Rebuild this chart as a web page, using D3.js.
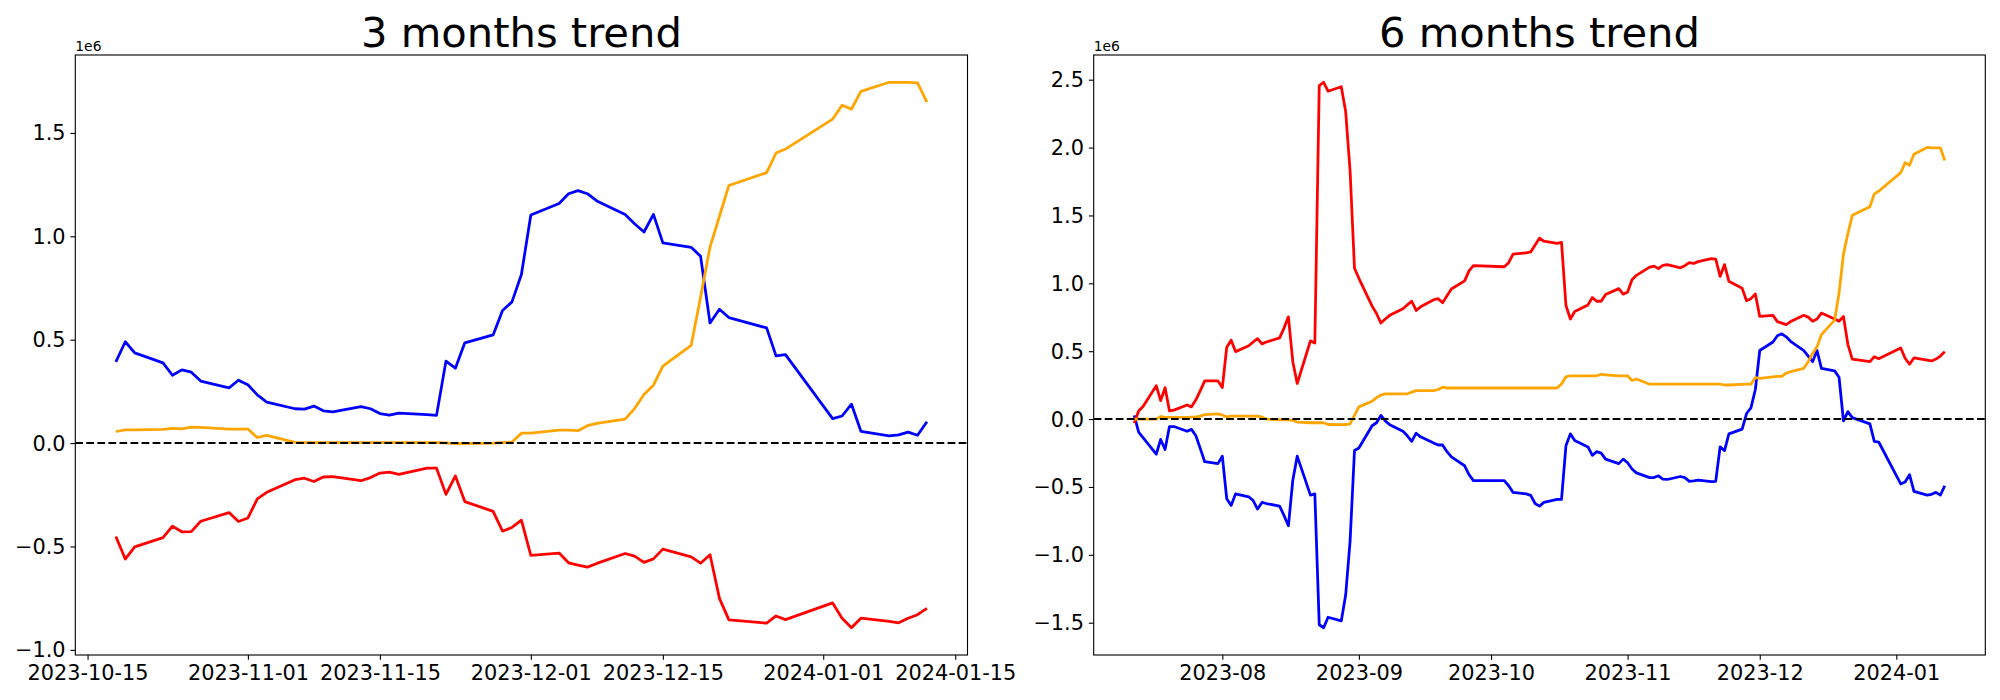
<!DOCTYPE html>
<html>
<head>
<meta charset="utf-8">
<script src="https://cdn.jsdelivr.net/npm/d3@7"></script>
<style>
  html, body { margin: 0; padding: 0; background: #ffffff; }
  svg { display: block; }
  text { font-family: "DejaVu Sans", sans-serif; fill: #000; }
</style>
</head>
<body>
<svg id="chart" width="2000" height="700"></svg>
<script>
// ---------------- DATA ----------------
const titles = ["3 months trend", "6 months trend"];
const offsetLabel = "1e6";

// 3 months panel
const dates3m = [
  "2023-10-18","2023-10-19","2023-10-20","2023-10-23","2023-10-24","2023-10-25","2023-10-26","2023-10-27","2023-10-30","2023-10-31",
  "2023-11-01","2023-11-02","2023-11-03","2023-11-06","2023-11-07","2023-11-08","2023-11-09","2023-11-10","2023-11-13","2023-11-14",
  "2023-11-15","2023-11-16","2023-11-17","2023-11-20","2023-11-21","2023-11-22","2023-11-23","2023-11-24","2023-11-27","2023-11-28",
  "2023-11-29","2023-11-30","2023-12-01","2023-12-04","2023-12-05","2023-12-06","2023-12-07","2023-12-08","2023-12-11","2023-12-12",
  "2023-12-13","2023-12-14","2023-12-15","2023-12-18","2023-12-19","2023-12-20","2023-12-21","2023-12-22","2023-12-26","2023-12-27",
  "2023-12-28","2024-01-02","2024-01-03","2024-01-04","2024-01-05","2024-01-08","2024-01-09","2024-01-10","2024-01-11","2024-01-12"
];
const blue3m = [
  0.393,0.490,0.436,0.388,0.328,0.354,0.343,0.300,0.267,0.304,
  0.282,0.233,0.198,0.166,0.164,0.179,0.156,0.151,0.176,0.166,
  0.143,0.135,0.145,0.138,0.134,0.396,0.362,0.485,0.523,0.641,
  0.683,0.815,1.103,1.159,1.206,1.221,1.206,1.171,1.105,1.061,
  1.021,1.106,0.968,0.947,0.903,0.581,0.647,0.607,0.557,0.422,
  0.428,0.118,0.131,0.188,0.057,0.035,0.040,0.053,0.038,0.103
];
const red3m = [
  -0.452,-0.561,-0.502,-0.457,-0.402,-0.429,-0.428,-0.378,-0.336,-0.379,
  -0.362,-0.270,-0.238,-0.177,-0.170,-0.186,-0.164,-0.162,-0.182,-0.167,
  -0.145,-0.140,-0.151,-0.121,-0.121,-0.248,-0.159,-0.283,-0.330,-0.426,
  -0.408,-0.373,-0.543,-0.532,-0.579,-0.590,-0.600,-0.582,-0.534,-0.547,
  -0.577,-0.560,-0.513,-0.550,-0.581,-0.540,-0.751,-0.855,-0.871,-0.836,
  -0.854,-0.773,-0.847,-0.893,-0.847,-0.862,-0.869,-0.847,-0.830,-0.799
];
const orange3m = [
  0.056,0.064,0.064,0.066,0.071,0.069,0.077,0.076,0.068,0.068,
  0.068,0.027,0.037,0.003,0.002,0.002,0.002,0.002,0.002,0.002,
  0.002,0.002,0.002,0.002,0.002,0.001,-0.003,-0.002,0.000,0.002,
  0.005,0.048,0.048,0.063,0.063,0.060,0.084,0.095,0.116,0.167,
  0.235,0.280,0.372,0.472,0.707,0.948,1.097,1.246,1.308,1.403,
  1.422,1.567,1.634,1.615,1.701,1.745,1.744,1.744,1.742,1.649
];
const xTicks3m = ["2023-10-15","2023-11-01","2023-11-15","2023-12-01","2023-12-15","2024-01-01","2024-01-15"];
const yTicks3m = [-1.0,-0.5,0.0,0.5,1.0,1.5];

// 6 months panel
const dates6m = [
  "2023-07-12","2023-07-13","2023-07-14","2023-07-17","2023-07-18","2023-07-19","2023-07-20","2023-07-21","2023-07-24","2023-07-25","2023-07-26","2023-07-27","2023-07-28","2023-07-31",
  "2023-08-01","2023-08-02","2023-08-03","2023-08-04","2023-08-07","2023-08-08","2023-08-09","2023-08-10","2023-08-11","2023-08-14","2023-08-15","2023-08-16","2023-08-17","2023-08-18","2023-08-21","2023-08-22","2023-08-23","2023-08-24","2023-08-25","2023-08-28","2023-08-29","2023-08-30","2023-08-31",
  "2023-09-01","2023-09-04","2023-09-05","2023-09-06","2023-09-07","2023-09-08","2023-09-11","2023-09-12","2023-09-13","2023-09-14","2023-09-15","2023-09-18","2023-09-19","2023-09-20","2023-09-21","2023-09-22","2023-09-25","2023-09-26","2023-09-27",
  "2023-10-04","2023-10-05","2023-10-06","2023-10-09","2023-10-10","2023-10-11","2023-10-12","2023-10-13","2023-10-16","2023-10-17","2023-10-18","2023-10-19","2023-10-20","2023-10-23","2023-10-24","2023-10-25","2023-10-26","2023-10-27","2023-10-30","2023-10-31",
  "2023-11-01","2023-11-02","2023-11-03","2023-11-06","2023-11-07","2023-11-08","2023-11-09","2023-11-10","2023-11-13","2023-11-14","2023-11-15","2023-11-16","2023-11-17","2023-11-20","2023-11-21","2023-11-22","2023-11-23","2023-11-24","2023-11-27","2023-11-28","2023-11-29","2023-11-30",
  "2023-12-01","2023-12-04","2023-12-05","2023-12-06","2023-12-07","2023-12-08","2023-12-11","2023-12-12","2023-12-13","2023-12-14","2023-12-15","2023-12-18","2023-12-19","2023-12-20","2023-12-21","2023-12-22","2023-12-26","2023-12-27","2023-12-28",
  "2024-01-02","2024-01-03","2024-01-04","2024-01-05","2024-01-08","2024-01-09","2024-01-10","2024-01-11","2024-01-12"
];
const red6m = [
  -0.030,0.060,0.093,0.246,0.136,0.232,0.060,0.066,0.104,0.090,0.142,0.210,0.281,0.281,
  0.232,0.529,0.581,0.497,0.540,0.568,0.592,0.554,0.568,0.598,0.670,0.753,0.423,0.262,0.576,0.560,2.456,2.481,2.415,2.448,2.265,1.829,1.111,
  1.037,0.832,0.778,0.707,0.737,0.764,0.813,0.841,0.868,0.800,0.827,0.879,0.887,0.857,0.909,0.958,1.018,1.092,1.130,
  1.122,1.152,1.215,1.225,1.231,1.283,1.332,1.310,1.294,1.302,0.838,0.737,0.792,0.841,0.895,0.868,0.868,0.917,0.961,0.920,
  0.936,1.026,1.059,1.119,1.127,1.108,1.133,1.138,1.114,1.130,1.152,1.146,1.160,1.182,1.179,1.051,1.138,1.015,0.963,0.871,0.887,0.922,
  0.756,0.764,0.718,0.707,0.696,0.718,0.764,0.751,0.721,0.737,0.781,0.737,0.721,0.756,0.551,0.442,0.423,0.459,0.445,
  0.524,0.448,0.404,0.450,0.434,0.428,0.442,0.464,0.497
];
const blue6m = [
  0.027,-0.096,-0.136,-0.259,-0.150,-0.224,-0.055,-0.055,-0.090,-0.076,-0.123,-0.218,-0.314,-0.328,
  -0.273,-0.587,-0.636,-0.551,-0.573,-0.600,-0.663,-0.614,-0.622,-0.641,-0.710,-0.786,-0.450,-0.273,-0.560,-0.551,-1.515,-1.537,-1.460,-1.487,-1.296,-0.901,-0.232,
  -0.213,-0.049,-0.027,0.027,-0.014,-0.041,-0.090,-0.123,-0.164,-0.104,-0.131,-0.177,-0.191,-0.191,-0.240,-0.278,-0.344,-0.409,-0.453,
  -0.453,-0.491,-0.540,-0.551,-0.562,-0.622,-0.641,-0.614,-0.592,-0.592,-0.197,-0.109,-0.158,-0.205,-0.267,-0.240,-0.251,-0.295,-0.328,-0.295,
  -0.322,-0.368,-0.396,-0.431,-0.431,-0.418,-0.442,-0.445,-0.423,-0.431,-0.459,-0.456,-0.450,-0.461,-0.459,-0.205,-0.232,-0.109,-0.074,0.041,0.082,0.218,
  0.505,0.568,0.614,0.628,0.606,0.573,0.505,0.464,0.423,0.505,0.374,0.355,0.308,-0.014,0.055,0.011,-0.035,-0.164,-0.169,
  -0.478,-0.464,-0.409,-0.532,-0.560,-0.554,-0.540,-0.560,-0.491
];
const orange6m = [
  0.000,0.000,0.000,0.000,0.019,0.012,0.012,0.012,0.012,0.014,0.016,0.022,0.033,0.038,
  0.030,0.016,0.022,0.022,0.022,0.022,0.022,0.014,0.000,-0.005,-0.005,-0.005,-0.010,-0.022,-0.027,-0.027,-0.027,-0.027,-0.040,-0.041,-0.040,-0.035,0.027,
  0.090,0.131,0.158,0.177,0.186,0.186,0.186,0.186,0.199,0.210,0.210,0.210,0.218,0.235,0.229,0.229,0.229,0.229,0.229,
  0.229,0.229,0.229,0.229,0.229,0.229,0.229,0.229,0.229,0.259,0.311,0.319,0.319,0.319,0.319,0.319,0.330,0.325,0.319,0.319,
  0.319,0.284,0.295,0.257,0.257,0.257,0.257,0.257,0.257,0.257,0.257,0.257,0.257,0.257,0.257,0.257,0.251,0.251,0.255,0.257,0.257,0.306,
  0.300,0.311,0.314,0.314,0.338,0.349,0.374,0.423,0.483,0.532,0.622,0.729,0.928,1.215,1.365,1.501,1.564,1.659,1.678,
  1.815,1.889,1.870,1.951,2.001,1.998,1.998,1.998,1.905
];
const xTicks6m = ["2023-08-01","2023-09-01","2023-10-01","2023-11-01","2023-12-01","2024-01-01"];
const yTicks6m = [-1.5,-1.0,-0.5,0.0,0.5,1.0,1.5,2.0,2.5];

// ---------------- DRAWING ----------------
const parse = d3.timeParse("%Y-%m-%d");
const svg = d3.select("#chart");
svg.append("rect").attr("width", 2000).attr("height", 700).attr("fill", "#fff");

const PX = 100 / 72; // points to pixels
const panels = [
  { title: titles[0], left: 75.3, right: 967.5, dates: dates3m,
    series: [ {v: blue3m, c: "#0000ff"}, {v: red3m, c: "#ff0000"}, {v: orange3m, c: "#ffa500"} ],
    xTicks: xTicks3m, xFmt: d3.timeFormat("%Y-%m-%d"), yTicks: yTicks3m },
  { title: titles[1], left: 1093.7, right: 1985.3, dates: dates6m,
    series: [ {v: blue6m, c: "#0000ff"}, {v: red6m, c: "#ff0000"}, {v: orange6m, c: "#ffa500"} ],
    xTicks: xTicks6m, xFmt: d3.timeFormat("%Y-%m"), yTicks: yTicks6m }
];
const plotTop = 55, plotBottom = 655;
const fmtY = v => d3.format(".1f")(v).replace("-", "\u2212");

panels.forEach((p, i) => {
  const ds = p.dates.map(parse);
  const t0 = +ds[0], t1 = +ds[ds.length - 1], span = t1 - t0;
  const x = d3.scaleTime()
    .domain([new Date(t0 - 0.05 * span), new Date(t1 + 0.05 * span)])
    .range([p.left, p.right]);
  const all = p.series.flatMap(s => s.v);
  const vmin = d3.min(all), vmax = d3.max(all), vr = vmax - vmin;
  const y = d3.scaleLinear()
    .domain([vmin - 0.05 * vr, vmax + 0.05 * vr])
    .range([plotBottom, plotTop]);

  const g = svg.append("g");
  const clipId = "clip" + i;
  svg.append("defs").append("clipPath").attr("id", clipId)
    .append("rect").attr("x", p.left).attr("y", plotTop)
    .attr("width", p.right - p.left).attr("height", plotBottom - plotTop);

  const plot = g.append("g").attr("clip-path", `url(#${clipId})`);
  const line = d3.line().x((d, k) => x(ds[k])).y(d => y(d));
  p.series.forEach(s => {
    plot.append("path").datum(s.v).attr("d", line)
      .attr("fill", "none").attr("stroke", s.c)
      .attr("stroke-width", 2 * PX).attr("stroke-linejoin", "round");
  });
  // zero reference line
  plot.append("line")
    .attr("x1", p.left).attr("x2", p.right)
    .attr("y1", y(0)).attr("y2", y(0))
    .attr("stroke", "#000").attr("stroke-width", 1.5 * PX)
    .attr("stroke-dasharray", `${3.7 * 1.5 * PX},${1.6 * 1.5 * PX}`);

  // axes
  const tickLen = 3.5 * PX, pad = 3.5 * PX, fs = 15 * PX;
  const xAxis = d3.axisBottom(x).tickValues(p.xTicks.map(parse))
    .tickFormat(p.xFmt).tickSizeInner(tickLen).tickSizeOuter(0).tickPadding(pad);
  const gx = g.append("g").attr("transform", `translate(0,${plotBottom})`).call(xAxis);
  gx.select(".domain").remove();
  gx.selectAll(".tick line").attr("stroke", "#000").attr("stroke-width", 0.8 * PX);
  gx.selectAll(".tick text").attr("font-size", fs).attr("font-family", "DejaVu Sans")
    .attr("dy", null).attr("y", tickLen + pad + 0.729 * fs).attr("fill", "#000");

  const yAxis = d3.axisLeft(y).tickValues(p.yTicks).tickFormat(fmtY)
    .tickSizeInner(tickLen).tickSizeOuter(0).tickPadding(pad);
  const gy = g.append("g").attr("transform", `translate(${p.left},0)`).call(yAxis);
  gy.select(".domain").remove();
  gy.selectAll(".tick line").attr("stroke", "#000").attr("stroke-width", 0.8 * PX);
  gy.selectAll(".tick text").attr("font-size", fs).attr("font-family", "DejaVu Sans")
    .attr("dy", null).attr("dominant-baseline", "central").attr("fill", "#000");

  // frame
  g.append("rect").attr("x", p.left).attr("y", plotTop)
    .attr("width", p.right - p.left).attr("height", plotBottom - plotTop)
    .attr("fill", "none").attr("stroke", "#000").attr("stroke-width", 0.8 * PX);

  // offset label
  g.append("text").attr("x", p.left).attr("y", 51)
    .attr("font-size", 10 * PX).text(offsetLabel);

  // title
  g.append("text").attr("x", (p.left + p.right) / 2).attr("y", plotTop - 6 * PX)
    .attr("text-anchor", "middle").attr("font-size", 30 * PX).text(p.title);
});
</script>
</body>
</html>
